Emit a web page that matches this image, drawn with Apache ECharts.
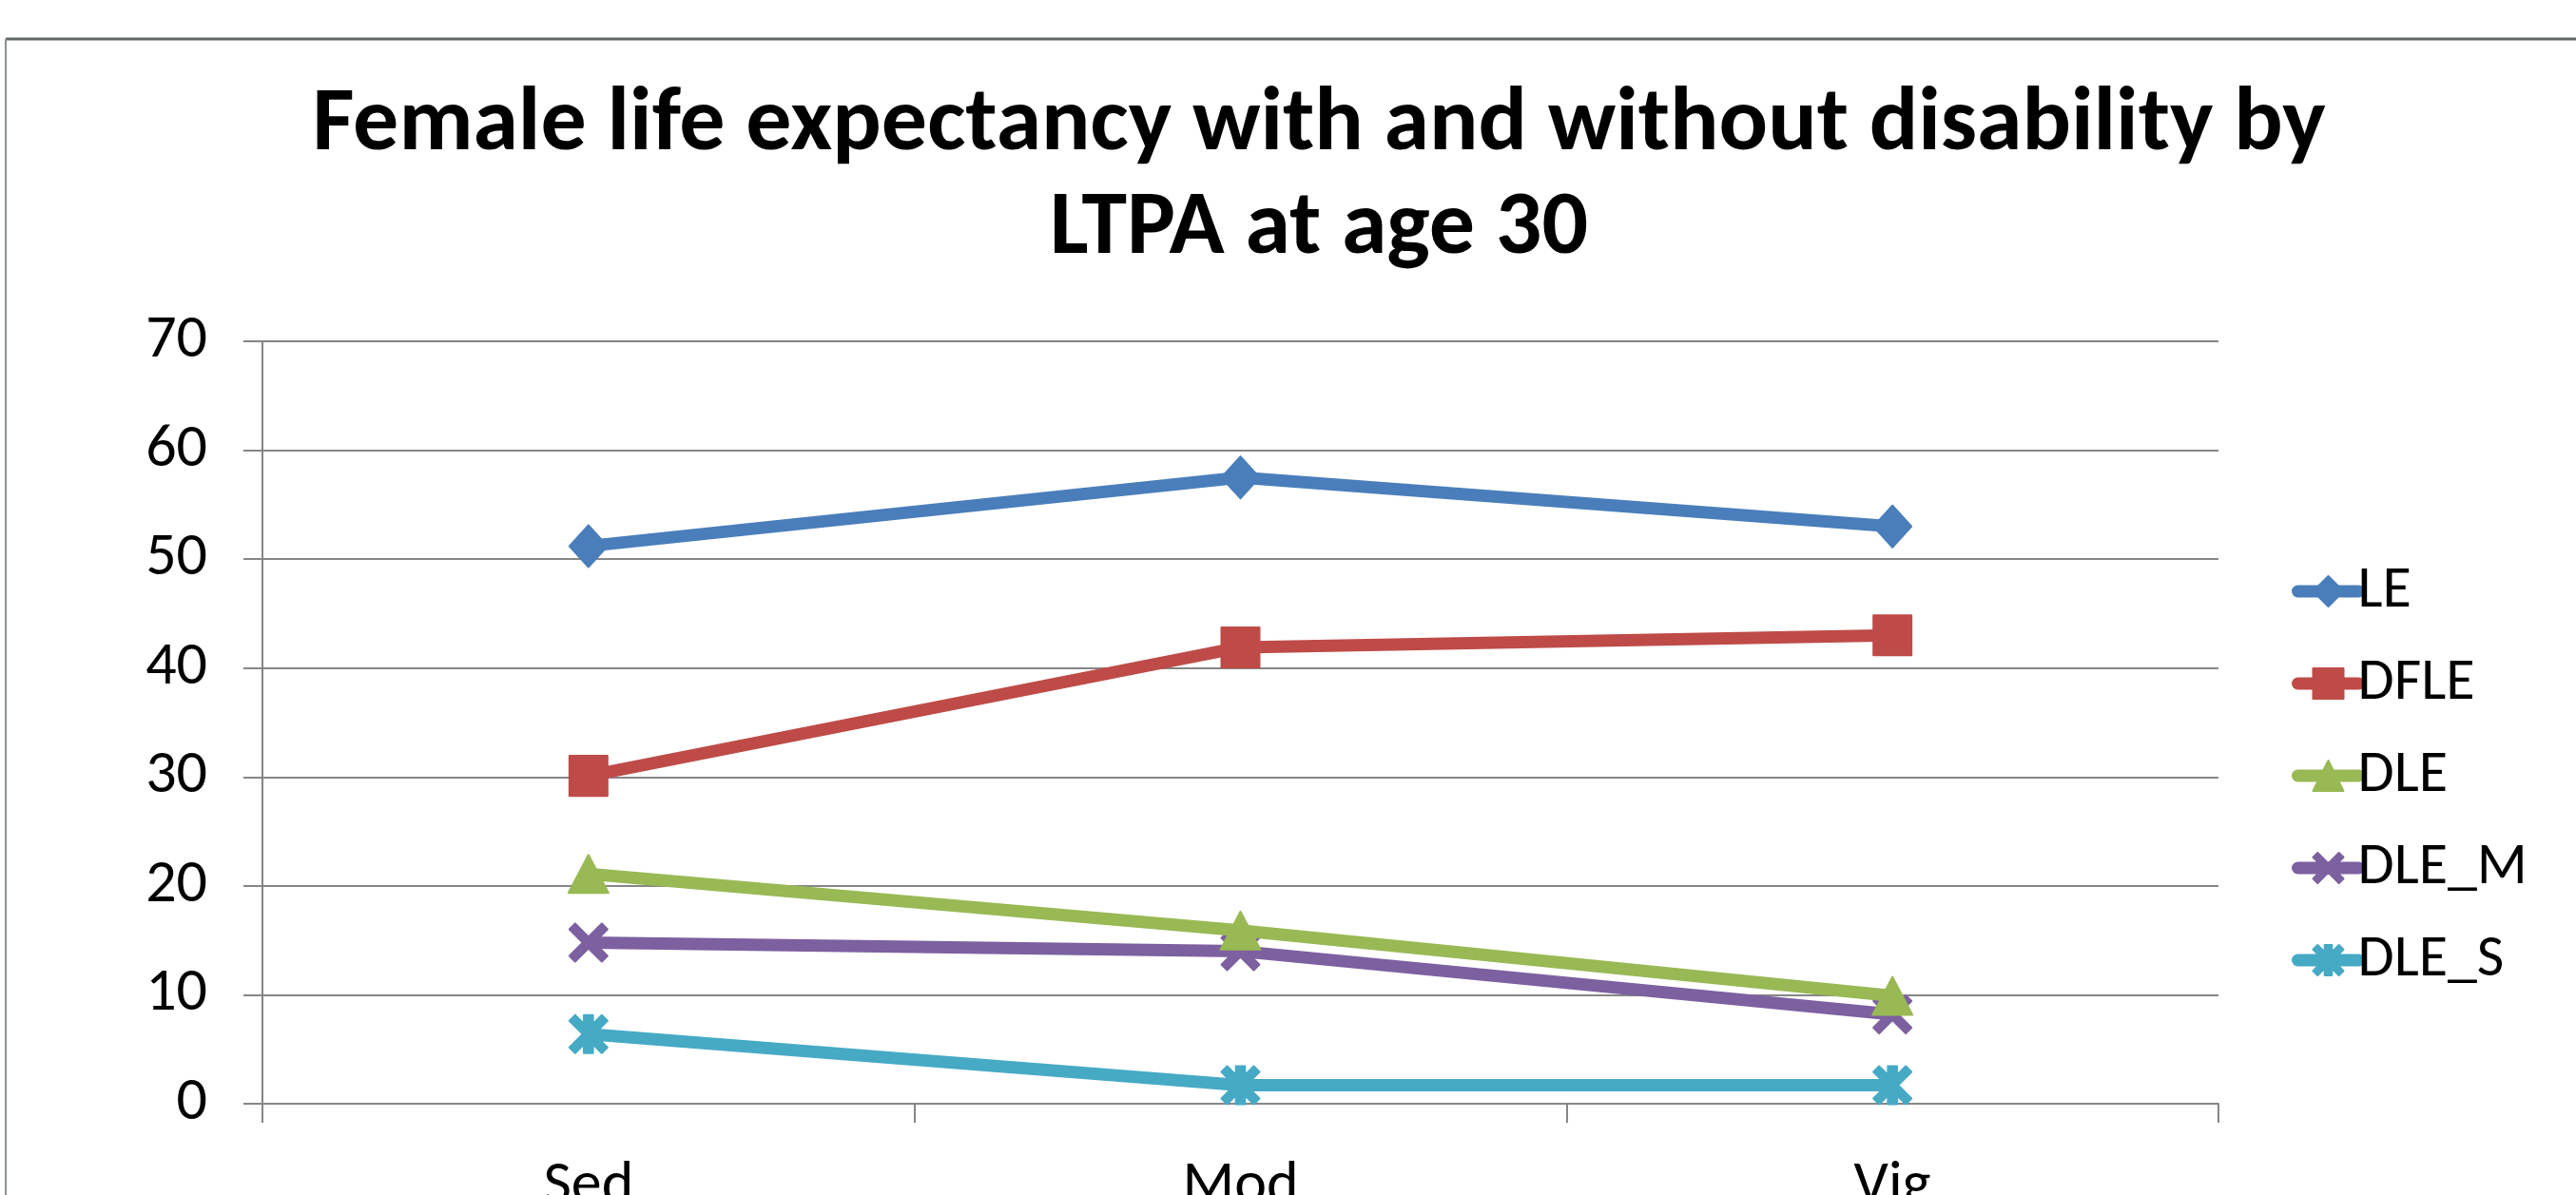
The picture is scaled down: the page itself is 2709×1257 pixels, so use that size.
<!DOCTYPE html>
<html>
<head>
<meta charset="utf-8">
<script src="https://cdn.jsdelivr.net/npm/echarts@6/dist/echarts.min.js"></script>
<style>
html,body{margin:0;padding:0;background:#fff;}
#chart{width:2709px;height:1257px;}
</style>
</head>
<body>
<div id="chart"></div>
<script>
const titleText = 'Female life expectancy with and without disability by\nLTPA at age 30';
const categories = ['Sed', 'Mod', 'Vig'];
const seriesNames = ['LE', 'DFLE', 'DLE', 'DLE_M', 'DLE_S'];
const LE = [51.2, 57.5, 53.0];
const DFLE = [30.1, 41.9, 43.0];
const DLE = [21.1, 15.9, 9.9];
const DLE_M = [14.8, 14.0, 8.2];
const DLE_S = [6.4, 1.7, 1.7];
const yTicks = [0, 10, 20, 30, 40, 50, 60, 70];

const colors = ['#4a7ebb', '#be4b48', '#98b954', '#7d60a0', '#46aac5'];
const FONT = 'Carlito, Lato, "Open Sans", sans-serif';
const xPath = 'path://M1.5 0 L5 3.5 L8.5 0 L10 1.5 L6.5 5 L10 8.5 L8.5 10 L5 6.5 L1.5 10 L0 8.5 L3.5 5 L0 1.5 Z';
const starPath = 'path://M1.5 0 L5 3.5 L8.5 0 L10 1.5 L6.5 5 L10 8.5 L8.5 10 L5 6.5 L1.5 10 L0 8.5 L3.5 5 L0 1.5 Z M3.8 0 L6.2 0 L6.2 10 L3.8 10 Z';
const symbols = ['diamond', 'rect', 'triangle', xPath, starPath];
const sizes = [[40, 44], [40, 42], [42, 40], [40, 40], [40, 40]];
const dataSets = [LE, DFLE, DLE, DLE_M, DLE_S];

const chart = echarts.init(document.getElementById('chart'), null, {renderer: 'canvas'});

const series = seriesNames.map((name, i) => ({
  name: name,
  type: 'line',
  data: dataSets[i],
  symbol: symbols[i],
  symbolSize: sizes[i],
  showAllSymbol: true,
  z: 10 - i,
  lineStyle: {color: colors[i], width: 13, cap: 'round', join: 'round'},
  itemStyle: {color: colors[i], borderColor: colors[i], borderWidth: 2, borderJoin: 'round', opacity: 1},
  emphasis: {disabled: true},
  animation: false
}));

chart.setOption({
  animation: false,
  backgroundColor: '#ffffff',
  color: colors,
  title: {
    text: titleText,
    left: 1387,
    top: 78,
    textAlign: 'center',
    padding: 0,
    textStyle: {fontFamily: FONT, fontWeight: 'bold', fontSize: 96, lineHeight: 109, color: '#000'}
  },
  legend: {
    orient: 'vertical',
    left: 2405,
    top: 586,
    itemWidth: 64,
    itemHeight: 40,
    itemGap: 35,
    selectedMode: false,
    lineStyle: {width: 13, cap: 'round'},
    textStyle: {fontFamily: FONT, fontSize: 62, lineHeight: 58, color: '#000', padding: [0, 0, 0, -6]},
    data: seriesNames
  },
  grid: {left: 276, right: 376, top: 359, bottom: 96, containLabel: false, outerBoundsMode: 'none'},
  xAxis: {
    type: 'category',
    data: categories,
    boundaryGap: true,
    axisLine: {show: true, lineStyle: {color: '#868686', width: 2}},
    axisTick: {show: true, length: 20, alignWithLabel: false, lineStyle: {color: '#868686', width: 2}},
    axisLabel: {fontFamily: FONT, fontSize: 64, color: '#000', margin: 56},
    splitLine: {show: false}
  },
  yAxis: {
    type: 'value',
    min: yTicks[0],
    max: yTicks[yTicks.length - 1],
    interval: 10,
    axisLine: {show: true, lineStyle: {color: '#868686', width: 2}},
    axisTick: {show: true, length: 20, lineStyle: {color: '#868686', width: 2}},
    axisLabel: {fontFamily: FONT, fontSize: 64, color: '#000', margin: 58},
    splitLine: {show: true, lineStyle: {color: '#868686', width: 2}}
  },
  graphic: [
    {type: 'line', shape: {x1: 6, y1: 41, x2: 2709, y2: 41}, style: {stroke: '#5d6567', lineWidth: 3}, silent: true},
    {type: 'line', shape: {x1: 6, y1: 41, x2: 6, y2: 1257}, style: {stroke: '#8a9294', lineWidth: 2}, silent: true}
  ],
  series: series
});
</script>
</body>
</html>
